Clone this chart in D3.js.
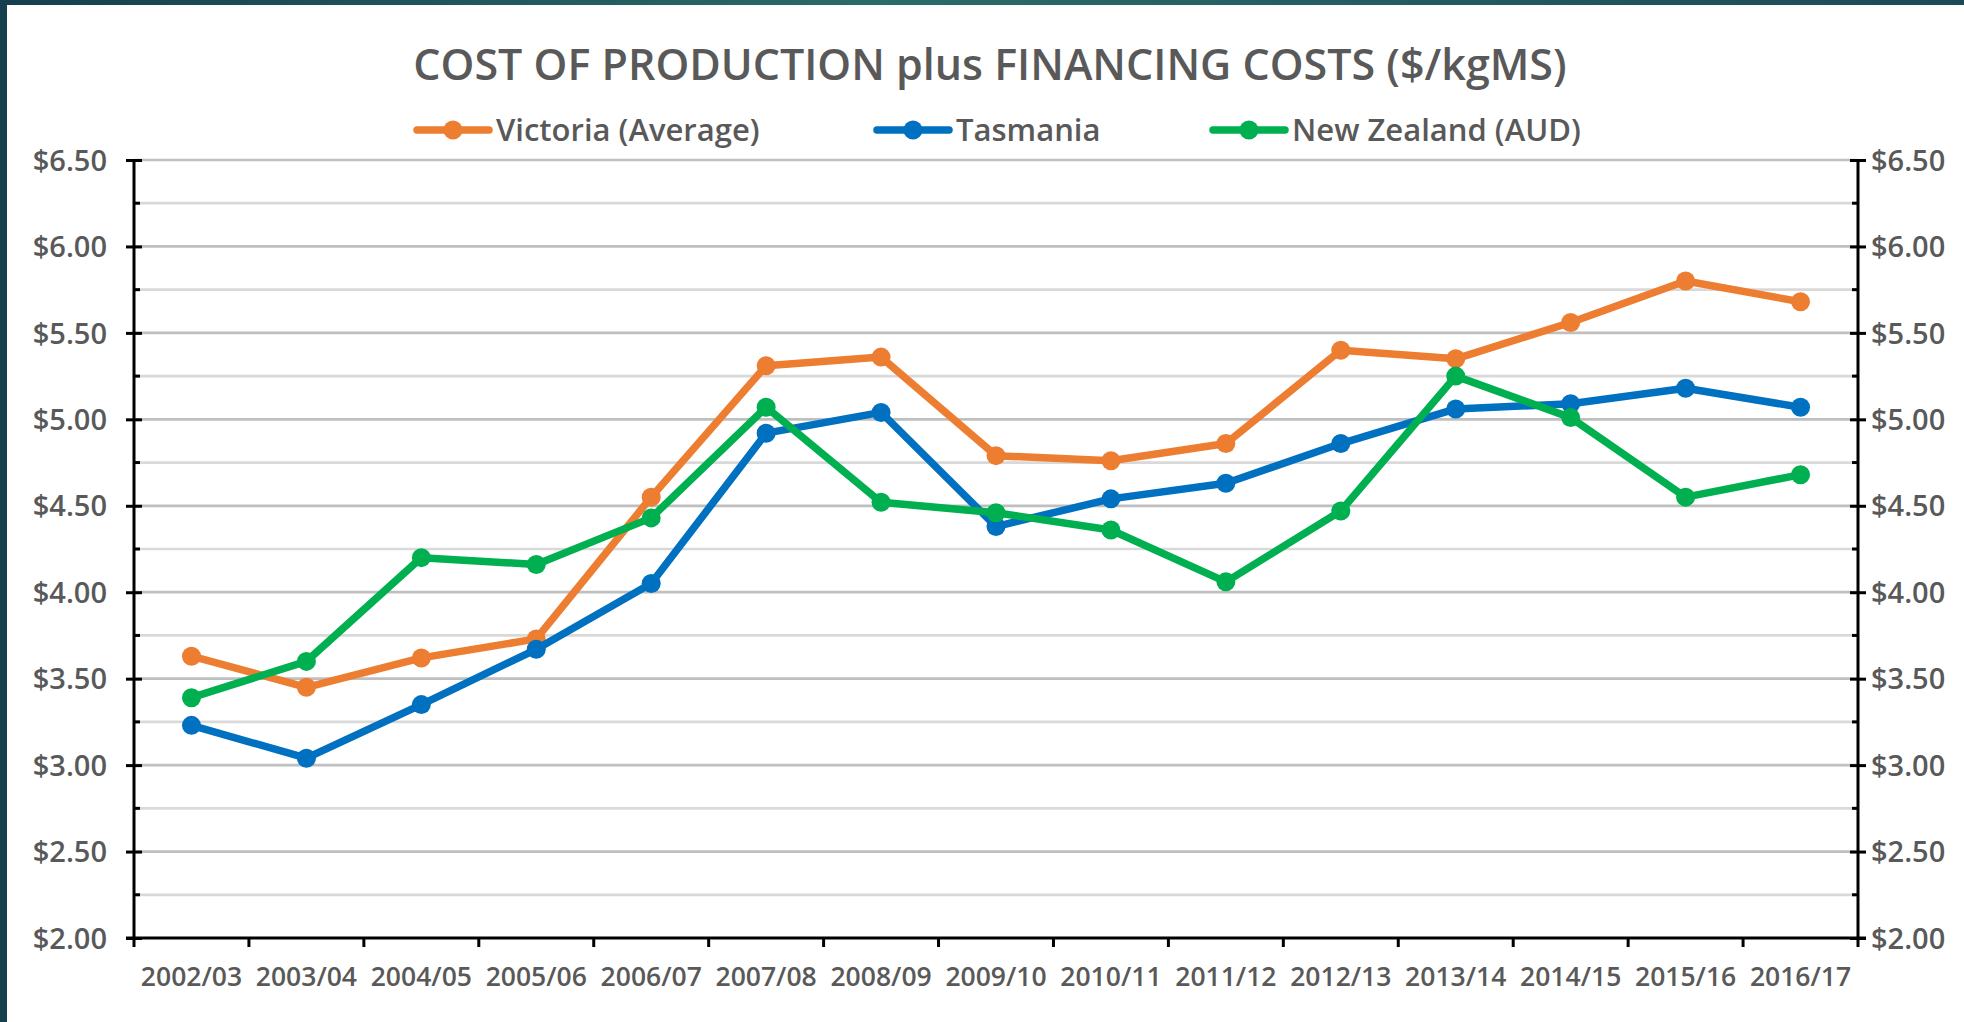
<!DOCTYPE html>
<html>
<head>
<meta charset="utf-8">
<script src="https://cdn.jsdelivr.net/npm/d3@7"></script>
<style>
  html, body { margin: 0; padding: 0; }
  body { width: 1964px; height: 1022px; overflow: hidden;
         background: linear-gradient(90deg, #163f4d 0%, #2b6b6a 45%, #1c4a57 100%); }
  #chart { position: absolute; left: 7px; top: 5px; width: 1957px; height: 1017px; background: #fff; }
  text { font-family: "Open Sans", "DejaVu Sans", sans-serif; font-weight: 600; fill: #595959; }
</style>
</head>
<body>
<div id="chart"></div>
<script>
// data
const seasons = ["2002/03", "2003/04", "2004/05", "2005/06", "2006/07", "2007/08", "2008/09",
    "2009/10", "2010/11", "2011/12", "2012/13", "2013/14", "2014/15", "2015/16", "2016/17"];
const victoria = [3.63, 3.45, 3.62, 3.73, 4.55, 5.31, 5.36, 4.79, 4.76, 4.86, 5.40, 5.35, 5.56, 5.80, 5.68];
const tasmania = [3.23, 3.04, 3.35, 3.67, 4.05, 4.92, 5.04, 4.38, 4.54, 4.63, 4.86, 5.06, 5.09, 5.18, 5.07];
const newZealand = [3.39, 3.60, 4.20, 4.16, 4.43, 5.07, 4.52, 4.46, 4.36, 4.06, 4.47, 5.25, 5.01, 4.55, 4.68];
const seriesNames = ["Victoria (Average)", "Tasmania", "New Zealand (AUD)"];
const seriesColors = ["#ED7D31", "#0070C0", "#00B050"];
const majorTicks = [2, 2.5, 3, 3.5, 4, 4.5, 5, 5.5, 6, 6.5];
const minorTicks = [2.25, 2.75, 3.25, 3.75, 4.25, 4.75, 5.25, 5.75, 6.25];

const series = [victoria, tasmania, newZealand].map((values, i) => ({
    name: seriesNames[i],
    color: seriesColors[i],
    values: values.map((v, j) => ({ season: seasons[j], value: v }))
}));

// chart div is offset by 7,5 from the page
const width = 1957, height = 1017;
const plotLeft = 127, plotRight = 1851, plotTop = 155, plotBottom = 933;

const svg = d3.select("#chart")
    .append("svg")
    .attr("width", width)
    .attr("height", height);

const x = d3.scaleBand()
    .domain(seasons)
    .range([plotLeft, plotRight])
    .padding(0);

const y = d3.scaleLinear()
    .domain([2, 6.5])
    .range([plotBottom, plotTop]);

// gridlines
svg.append("g")
    .selectAll("line")
    .data(minorTicks)
    .join("line")
    .attr("x1", plotLeft).attr("x2", plotRight)
    .attr("y1", d => y(d)).attr("y2", d => y(d))
    .attr("stroke", "#d9d9d9")
    .attr("stroke-width", 2.7);

svg.append("g")
    .selectAll("line")
    .data(majorTicks.filter(d => d > 2))
    .join("line")
    .attr("x1", plotLeft).attr("x2", plotRight)
    .attr("y1", d => y(d)).attr("y2", d => y(d))
    .attr("stroke", "#bfbfbf")
    .attr("stroke-width", 2.7);

// y axes on both sides
const fmt = d => "$" + d3.format(".2f")(d);
const leftAxis = svg.append("g")
    .attr("transform", `translate(${plotLeft},0)`)
    .call(d3.axisLeft(y).tickValues(majorTicks).tickSize(8).tickPadding(19).tickFormat(fmt));

const rightAxis = svg.append("g")
    .attr("transform", `translate(${plotRight},0)`)
    .call(d3.axisRight(y).tickValues(majorTicks).tickSize(8).tickPadding(5).tickFormat(fmt));

[leftAxis, rightAxis].forEach((ax, k) => {
    ax.select(".domain").remove();
    ax.selectAll("text").style("font-size", "29px").attr("fill", "#595959").attr("dy", "0.35em");
    ax.selectAll(".tick line").attr("stroke", "#000").attr("stroke-width", 3)
        .attr("x1", k === 0 ? 8 : -8);
});

// minor ticks, inside the plot
svg.append("g")
    .selectAll("line")
    .data(minorTicks)
    .join("line")
    .attr("x1", plotLeft).attr("x2", plotLeft + 6)
    .attr("y1", d => y(d)).attr("y2", d => y(d))
    .attr("stroke", "#000").attr("stroke-width", 3);

svg.append("g")
    .selectAll("line")
    .data(minorTicks)
    .join("line")
    .attr("x1", plotRight - 6).attr("x2", plotRight)
    .attr("y1", d => y(d)).attr("y2", d => y(d))
    .attr("stroke", "#000").attr("stroke-width", 3);

// bottom axis, labels centred in bands, ticks at band edges
const bottomAxis = svg.append("g")
    .attr("transform", `translate(0,${plotBottom})`)
    .call(d3.axisBottom(x).tickSize(0).tickPadding(29));
bottomAxis.select(".domain").remove();
bottomAxis.selectAll("text").style("font-size", "26.5px").attr("fill", "#595959");

svg.append("g")
    .selectAll("line")
    .data(d3.range(seasons.length + 1))
    .join("line")
    .attr("x1", i => plotLeft + i * x.step()).attr("x2", i => plotLeft + i * x.step())
    .attr("y1", plotBottom).attr("y2", plotBottom + 9)
    .attr("stroke", "#000").attr("stroke-width", 3);

// axis lines
svg.append("line").attr("x1", plotLeft).attr("x2", plotLeft).attr("y1", plotTop).attr("y2", plotBottom)
    .attr("stroke", "#000").attr("stroke-width", 3);
svg.append("line").attr("x1", plotRight).attr("x2", plotRight).attr("y1", plotTop).attr("y2", plotBottom)
    .attr("stroke", "#000").attr("stroke-width", 3);
svg.append("line").attr("x1", plotLeft - 8).attr("x2", plotRight + 8).attr("y1", plotBottom).attr("y2", plotBottom)
    .attr("stroke", "#000").attr("stroke-width", 3);

// lines
const line = d3.line()
    .x(d => x(d.season) + x.bandwidth() / 2)
    .y(d => y(d.value));

const groups = svg.append("g")
    .selectAll("g")
    .data(series)
    .join("g");

groups.append("path")
    .attr("d", d => line(d.values))
    .attr("fill", "none")
    .attr("stroke", d => d.color)
    .attr("stroke-width", 7.5)
    .attr("stroke-linejoin", "round");

groups.selectAll("circle")
    .data(d => d.values.map(v => ({ ...v, color: d.color })))
    .join("circle")
    .attr("cx", d => x(d.season) + x.bandwidth() / 2)
    .attr("cy", d => y(d.value))
    .attr("r", 9.5)
    .attr("fill", d => d.color);

// title
svg.append("text")
    .attr("x", 983)
    .attr("y", 75)
    .attr("text-anchor", "middle")
    .style("font-size", "43px")
    .text("COST OF PRODUCTION plus FINANCING COSTS ($/kgMS)");

// legend
const legendX = [410, 870, 1206];
const legend = svg.append("g")
    .selectAll("g")
    .data(series)
    .join("g")
    .attr("transform", (d, i) => `translate(${legendX[i]},125)`);

legend.append("line")
    .attr("x1", 0).attr("x2", 72)
    .attr("stroke", d => d.color)
    .attr("stroke-width", 7.5)
    .attr("stroke-linecap", "round");

legend.append("circle")
    .attr("cx", 36)
    .attr("r", 9.5)
    .attr("fill", d => d.color);

legend.append("text")
    .attr("x", 79)
    .attr("dy", "0.35em")
    .style("font-size", "31px")
    .text(d => d.name);
</script>
</body>
</html>
